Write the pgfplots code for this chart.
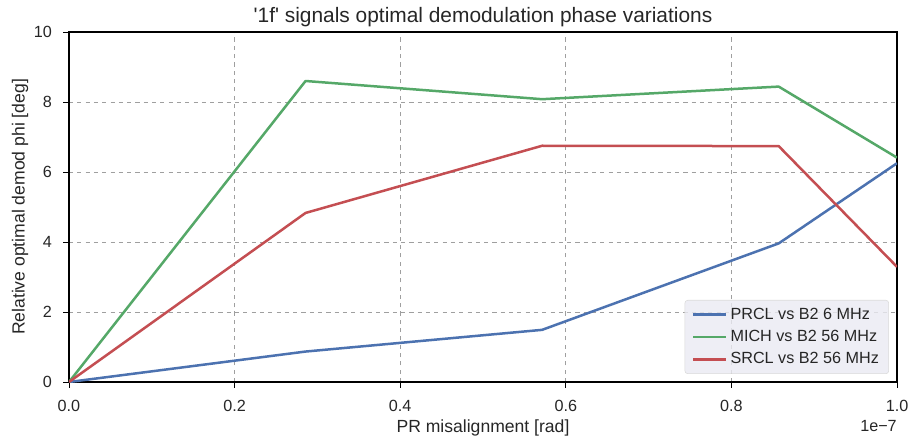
\documentclass[border=0pt]{standalone}
\usepackage{pgfplots}
\pgfplotsset{compat=1.18}
\usepackage{fontspec}
\setmainfont{Liberation Sans}

\definecolor{sbblue}{HTML}{4C72B0}
\definecolor{sbgreen}{HTML}{55A868}
\definecolor{sbred}{HTML}{C44E52}
\definecolor{txt}{HTML}{262626}
\definecolor{legfill}{HTML}{EAEAF2}

\begin{document}
\begin{tikzpicture}
	\begin{axis}[
		scale only axis,
		width=596.16bp,
		height=252bp,
		xmin=0, xmax=1,
		ymin=0, ymax=10,
		xtick={0,0.2,0.4,0.6,0.8,1.0},
		ytick={0,2,4,6,8,10},
		xticklabel style={/pgf/number format/fixed, /pgf/number format/fixed zerofill, /pgf/number format/precision=1},
		/pgf/number format/assume math mode=true,
		scaled x ticks=false,
		tick align=outside,
		xtick pos=bottom,
		ytick pos=left,
		major tick length=4.3bp,
		tick style={black, line width=0.6pt},
		axis line style={black, line width=0.8pt},
		grid=major,
		major grid style={gray!75, dashed, line width=0.6pt},
		tick label style={font=\fontsize{11.7}{13}\selectfont, text=txt},
		xticklabel style={anchor=base, yshift=-16.6bp},
		yticklabel style={anchor=east, inner sep=0pt, xshift=-7.9bp},
		title={\fontsize{15.1}{17}\selectfont\textquotesingle 1f\textquotesingle\ signals optimal demodulation phase variations},
		every axis title/.style={text=txt, at={(axis description cs:0.5,1)}, anchor=base, yshift=6.7bp},
		xlabel={PR misalignment [rad]},
		ylabel={Relative optimal demod phi [deg]},
		every axis x label/.style={font=\fontsize{12.7}{14}\selectfont, text=txt, at={(axis description cs:0.5,0)}, anchor=base, yshift=-36.7bp},
		every axis y label/.style={font=\fontsize{12.7}{14}\selectfont, text=txt, at={(axis description cs:-0.0592,0.5)}, anchor=center, rotate=90},
		legend style={at={(axis description cs:1,0)}, anchor=south east, xshift=-5.8bp, yshift=5.8bp,
			fill=legfill, fill opacity=0.8, text opacity=1, draw=gray!30, rounded corners=2bp,
			font=\fontsize{11.7}{13}\selectfont, text=txt, row sep=2.5bp, inner xsep=5bp, inner ysep=3.5bp},
		legend cell align=left,
		legend image code/.code={\draw[#1] (0bp,0bp) -- (24bp,0bp);},
		every axis plot/.append style={line width=1.8bp, line join=round},
		]
		\addplot[sbblue] coordinates {
			(0,0) (0.2857,0.87) (0.5714,1.49) (0.8571,3.96) (1.0,6.25)
		};
		\addlegendentry{PRCL vs B2 6 MHz}
		\addplot[sbgreen] coordinates {
			(0,0) (0.2857,8.60) (0.5714,8.08) (0.8571,8.44) (1.0,6.41)
		};
		\addlegendentry{MICH vs B2 56 MHz}
		\addplot[sbred] coordinates {
			(0,0) (0.2857,4.83) (0.5714,6.75) (0.8571,6.74) (1.0,3.29)
		};
		\addlegendentry{SRCL vs B2 56 MHz}
	\end{axis}
	\node[anchor=base east, inner sep=0pt, text=txt, font=\fontsize{11.7}{13}\selectfont]
		at ([yshift=-35.3bp]current axis.south east) {1e\textminus 7};
	\pgfresetboundingbox
	\path ([shift={(-49.68bp,-45.36bp)}]current axis.south west) rectangle ([shift={(10.08bp,23.04bp)}]current axis.north east);
\end{tikzpicture}
\end{document}
